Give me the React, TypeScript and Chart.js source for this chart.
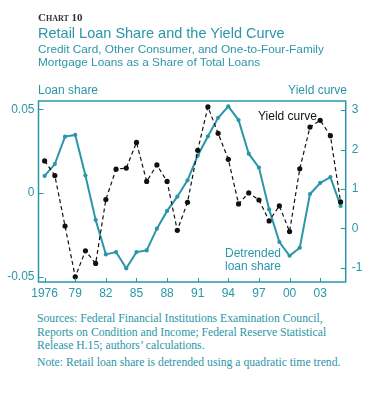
import React, { useEffect, useRef } from "react";
import { Chart, registerables } from "chart.js";

Chart.register(...registerables);

const years = [
  1976, 1977, 1978, 1979, 1980, 1981, 1982, 1983, 1984, 1985,
  1986, 1987, 1988, 1989, 1990, 1991, 1992, 1993, 1994, 1995,
  1996, 1997, 1998, 1999, 2000, 2001, 2002, 2003, 2004, 2005,
];
const loanShare = [
  0.0102, 0.0173, 0.0337, 0.0347, 0.0104, -0.0161, -0.0367, -0.0353, -0.045, -0.0353,
  -0.0343, -0.0213, -0.0107, -0.0022, 0.0076, 0.0223, 0.0339, 0.045, 0.0518, 0.0436,
  0.0235, 0.0152, -0.0098, -0.0293, -0.0375, -0.0327, -0.0006, 0.006, 0.0095, -0.0077,
];
const yieldCurve = [
  1.71, 1.34, 0.06, -1.23, -0.57, -0.89, 0.73, 1.5, 1.53, 2.18,
  1.19, 1.61, 1.19, -0.05, 0.66, 1.98, 3.08, 2.41, 1.75, 0.62,
  0.9, 0.72, 0.19, 0.57, -0.08, 1.51, 2.57, 2.74, 2.35, 0.67,
];
const xTickYears = [1976, 1979, 1982, 1985, 1988, 1991, 1994, 1997, 2000, 2003];
const leftTicks = [-0.05, 0, 0.05];
const rightTicks = [-1, 0, 1, 2, 3];

const TEAL = "#2a96a8";
const SANS = '"Liberation Sans", Arial, sans-serif';
const SERIF = '"Liberation Serif", "Times New Roman", serif';

export default function App() {
  const ref = useRef<HTMLCanvasElement>(null);

  useEffect(() => {
    const canvas = ref.current!;
    const framePlugin = {
      id: "frame",
      afterDraw(chart: any) {
        const { ctx, chartArea: a, scales } = chart;
        ctx.save();
        ctx.strokeStyle = TEAL;
        ctx.lineWidth = 1.5;
        ctx.strokeRect(a.left, a.top, a.right - a.left, a.bottom - a.top);
        ctx.lineWidth = 1;
        ctx.beginPath();
        for (const v of leftTicks) {
          const y = Math.round(scales.yL.getPixelForValue(v)) + 0.5;
          ctx.moveTo(a.left, y);
          ctx.lineTo(a.left + 5, y);
        }
        for (const v of rightTicks) {
          const y = Math.round(scales.yR.getPixelForValue(v)) + 0.5;
          ctx.moveTo(a.right, y);
          ctx.lineTo(a.right - 5, y);
        }
        for (const v of xTickYears) {
          const x = Math.round(scales.x.getPixelForValue(v)) + 0.5;
          ctx.moveTo(x, a.bottom);
          ctx.lineTo(x, a.bottom - 4);
        }
        ctx.stroke();
        ctx.restore();
      },
    };

    const chart = new Chart(canvas, {
      type: "line",
      data: {
        datasets: [
          {
            label: "Yield curve",
            data: years.map((x, i) => ({ x, y: yieldCurve[i] })),
            yAxisID: "yR",
            borderColor: "#111",
            backgroundColor: "#111",
            borderWidth: 1.2,
            borderDash: [4, 3],
            pointRadius: 2.6,
            pointBorderWidth: 0,
            tension: 0,
          },
          {
            label: "Detrended loan share",
            data: years.map((x, i) => ({ x, y: loanShare[i] })),
            yAxisID: "yL",
            borderColor: TEAL,
            backgroundColor: TEAL,
            borderWidth: 2,
            pointRadius: 2.1,
            pointBorderWidth: 0,
            tension: 0,
          },
        ],
      },
      options: {
        responsive: false,
        animation: false,
        devicePixelRatio: 1,
        layout: { padding: { top: 101, left: 0, right: 0, bottom: 0 } },
        plugins: { legend: { display: false }, tooltip: { enabled: false } },
        scales: {
          x: {
            type: "linear",
            min: 1975.4,
            max: 2005.5,
            grid: { display: false, drawTicks: false },
            border: { display: false },
            afterBuildTicks: (s: any) => {
              s.ticks = xTickYears.map((v) => ({ value: v }));
            },
            afterFit: (s: any) => {
              s.height = 28;
            },
            ticks: {
              color: TEAL,
              font: { family: SANS, size: 12 },
              padding: 4,
              maxRotation: 0,
              autoSkip: false,
              callback: (v: any) => (v === 1976 ? "1976" : String(v).slice(2)),
            },
          },
          yL: {
            type: "linear",
            position: "left",
            min: -0.0532,
            max: 0.055,
            grid: { display: false, drawTicks: false },
            border: { display: false },
            afterBuildTicks: (s: any) => {
              s.ticks = leftTicks.map((v) => ({ value: v }));
            },
            afterFit: (s: any) => {
              s.width = 38.5;
            },
            ticks: {
              color: TEAL,
              font: { family: SANS, size: 12 },
              padding: 4,
              callback: (v: any) => (v === 0 ? "0" : Number(v).toFixed(2)),
            },
          },
          yR: {
            type: "linear",
            position: "right",
            min: -1.36,
            max: 3.23,
            grid: { display: false, drawTicks: false },
            border: { display: false },
            afterBuildTicks: (s: any) => {
              s.ticks = rightTicks.map((v) => ({ value: v }));
            },
            afterFit: (s: any) => {
              s.width = 43.3;
            },
            ticks: {
              color: TEAL,
              font: { family: SANS, size: 12 },
              padding: 6,
              callback: (v: any) => String(v),
            },
          },
        },
      },
      plugins: [framePlugin],
    } as any);
    return () => chart.destroy();
  }, []);

  const abs = (top: number, left: number, extra: React.CSSProperties = {}): React.CSSProperties => ({
    position: "absolute",
    top,
    left,
    whiteSpace: "nowrap",
    lineHeight: 1,
    ...extra,
  });

  return (
    <div style={{ position: "absolute", left: 0, top: 0, width: 389, height: 393, background: "#fff", overflow: "hidden" }}>
      <canvas ref={ref} width={389} height={310} style={{ position: "absolute", left: 0, top: 0, width: 389, height: 310 }} />
      <div style={abs(11.8, 38, { fontFamily: SERIF, fontSize: 11, fontVariant: "small-caps", color: "#333", fontWeight: 600 })}>Chart 10</div>
      <div style={abs(26.2, 38, { fontFamily: SANS, fontSize: 14.5, color: TEAL })}>Retail Loan Share and the Yield Curve</div>
      <div style={abs(43.6, 38, { fontFamily: SANS, fontSize: 11.8, color: TEAL })}>Credit Card, Other Consumer, and One-to-Four-Family</div>
      <div style={abs(56.8, 38, { fontFamily: SANS, fontSize: 11.8, color: TEAL })}>Mortgage Loans as a Share of Total Loans</div>
      <div style={abs(84, 38, { fontFamily: SANS, fontSize: 12, color: TEAL })}>Loan share</div>
      <div style={abs(84, 279, { fontFamily: SANS, fontSize: 12, color: TEAL, width: 68, textAlign: "right" })}>Yield curve</div>
      <div style={abs(109.7, 258, { fontFamily: SANS, fontSize: 12, color: "#111" })}>Yield curve</div>
      <div style={abs(246.7, 225, { fontFamily: SANS, fontSize: 12, color: TEAL })}>Detrended</div>
      <div style={abs(260, 225, { fontFamily: SANS, fontSize: 12, color: TEAL })}>loan share</div>
      <div style={abs(312.6, 37, { fontFamily: SERIF, fontSize: 11.7, color: TEAL })}>Sources: Federal Financial Institutions Examination Council,</div>
      <div style={abs(326.6, 37, { fontFamily: SERIF, fontSize: 11.7, color: TEAL })}>Reports on Condition and Income; Federal Reserve Statistical</div>
      <div style={abs(339.6, 37, { fontFamily: SERIF, fontSize: 11.7, color: TEAL })}>Release H.15; authors’ calculations.</div>
      <div style={abs(357, 37, { fontFamily: SERIF, fontSize: 11.7, color: TEAL })}>Note: Retail loan share is detrended using a quadratic time trend.</div>
    </div>
  );
}
